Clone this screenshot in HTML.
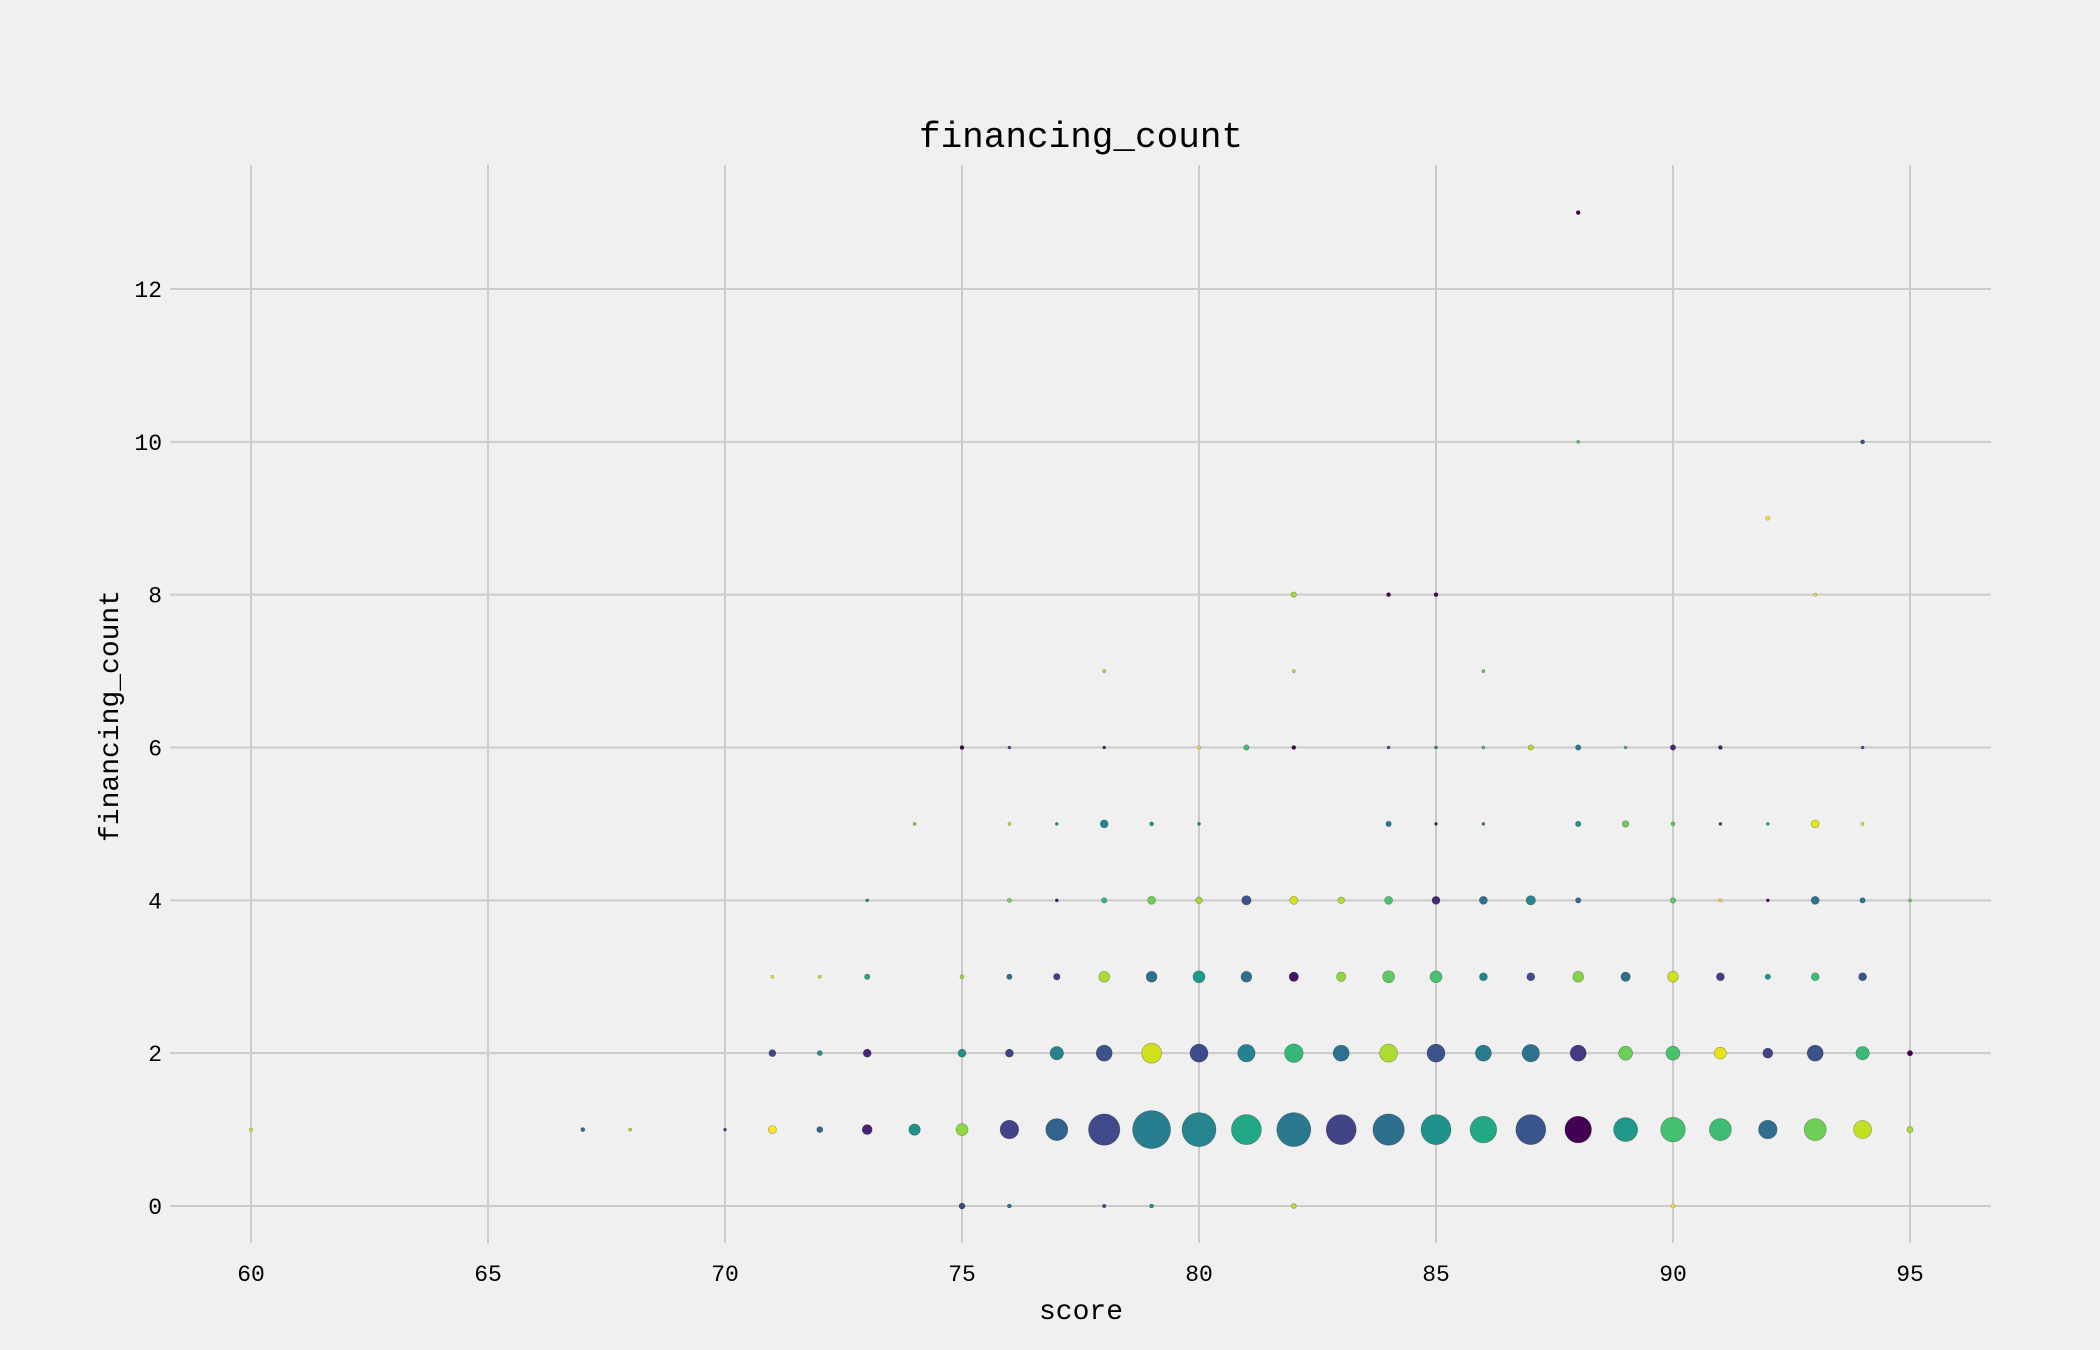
<!DOCTYPE html>
<html><head><meta charset="utf-8"><style>
html,body{margin:0;padding:0;background:#f0f0f0;}
svg{display:block;font-family:"Liberation Mono","IPAGothic",monospace;}
</style></head><body>
<svg id="chart" width="2100" height="1350" viewBox="0 0 2100 1350" xmlns="http://www.w3.org/2000/svg">
<rect x="0" y="0" width="2100" height="1350" fill="#f0f0f0"/>
<g id="grid"></g>
<g id="points"></g>
<g id="ticks"></g>
<text x="1081" y="147" text-anchor="middle" font-size="36" fill="#000">financing_count</text>
<text x="1081" y="1319" text-anchor="middle" font-size="28" fill="#000">score</text>
<text transform="translate(118,716) rotate(-90)" text-anchor="middle" font-size="28" fill="#000">financing_count</text>
</svg>
<script>
const xTicks=[60,65,70,75,80,85,90,95];
const yTicks=[0,2,4,6,8,10,12];
// rows of data: score, financing_count, marker radius, colour
const scores=[60,67,68,70,71,72,73,74,75,76,77,78,79,80,81,82,83,84,85,86,87,88,89,90,91,92,93,94,95,
71,72,73,75,76,77,78,79,80,81,82,83,84,85,86,87,88,89,90,91,92,93,94,95,
75,76,78,79,82,90,
71,72,73,75,76,77,78,79,80,81,82,83,84,85,86,87,88,89,90,91,92,93,94,
73,76,77,78,79,80,81,82,83,84,85,86,87,88,90,91,92,93,94,95,
74,76,77,78,79,80,84,85,86,88,89,90,91,92,93,94,
75,76,78,80,81,82,84,85,86,87,88,89,90,91,94,
78,82,86, 82,84,85,93, 92, 88,94, 88];
const counts=[1,1,1,1,1,1,1,1,1,1,1,1,1,1,1,1,1,1,1,1,1,1,1,1,1,1,1,1,1,
2,2,2,2,2,2,2,2,2,2,2,2,2,2,2,2,2,2,2,2,2,2,2,2,
0,0,0,0,0,0,
3,3,3,3,3,3,3,3,3,3,3,3,3,3,3,3,3,3,3,3,3,3,3,
4,4,4,4,4,4,4,4,4,4,4,4,4,4,4,4,4,4,4,4,
5,5,5,5,5,5,5,5,5,5,5,5,5,5,5,5,
6,6,6,6,6,6,6,6,6,6,6,6,6,6,6,
7,7,7, 8,8,8,8, 9, 10,10, 13];
const sizes=[1.5,2,1.5,1.5,4,3,5,5.7,6,9.3,11,15.7,19,17,15,17,15,15.7,15,13.3,15,13.3,12,12.3,11,9.3,11,9,3,
3.5,2.5,4,4,4,6.7,8,10,9,8.7,9.3,8,9,9,8,8.7,8,7,7,6,5,8,6.7,2.7,
3,2,1.8,2,2.5,2,
1.5,1.5,2.7,2,2.7,3.3,5.4,5.4,6,5.4,4.7,4.7,6,6,4,4,5.4,4.7,5.4,4,2.7,4,4,
1.5,2,1.5,2.7,4,3.3,4.7,4,3.3,4,4,4,4.7,2.7,2.7,1.5,1.5,4,2.7,1.5,
1.5,1.5,1.5,4,2,1.5,2.7,1.5,1.5,2.7,3.3,2,1.5,1.5,4,1.5,
2,1.5,1.5,1.5,2.7,2,1.5,1.5,1.5,2.7,2.7,1.5,2.7,2,1.5,
1.5,1.5,1.5, 2.7,2,2,1.5, 2, 1.5,2, 2];
const colors=["#e5e419","#31688e","#b5de2b","#3b528b","#fde725","#31688e","#482475","#21918c","#90d743","#414487","#33638d","#3e4a89","#287d8e","#25848e","#22a884","#2a788e","#414487","#2e6f8e","#20928c","#22a884","#39568c","#440154","#1f988b","#44bf70","#3fbc73","#2e6e8e","#6ece58","#c2df23","#a5db36",
"#414487","#21918c","#482475","#21918c","#414487","#26828e","#3b528b","#d0e11c","#3e4a89","#26828e","#35b779","#2c728e","#addc30","#3b528b","#287c8e","#2c728e","#443983","#6ccd5a","#4ac16d","#e5e419","#414487","#3b528b","#3aba76","#440154",
"#3e4a89","#287c8e","#3e4a89","#21918c","#b5de2b","#fde725",
"#fde725","#d8e219","#2a9d8a","#a0da39","#2e6e8e","#433e85","#addc30","#2d708e","#1f9a8a","#2c728e","#471365","#90d743","#5ec962","#4ac16d","#25858e","#3d4d8a","#86d549","#2c728e","#d0e11c","#433e85","#21918c","#3fbc73","#3b528b",
"#21918c","#73d056","#471365","#35b779","#6ece58","#a5db36","#3b528b","#d8e219","#b5de2b","#4ac16d","#482878","#2c728e","#23898e","#2e6e8e","#5ec962","#fde725","#440154","#2c728e","#287c8e","#6ece58",
"#7ad151","#d8e219","#21918c","#23898e","#1f988b","#26828e","#287c8e","#482475","#2a788e","#21918c","#6ccd5a","#5ec962","#482878","#20a386","#e5e419","#e5e419",
"#440154","#3b528b","#482475","#fde725","#44bf70","#440154","#3b528b","#21918c","#4ac16d","#b5de2b","#287c8e","#3fbc73","#482475","#482475","#3b528b",
"#b5de2b","#c2df23","#5ec962", "#9bd93c","#440154","#440154","#fde725", "#fde725", "#5ec962","#3b528b", "#440154"];
const X0=170,X1=1991,Y0=165,Y1=1243;
function xs(v){return 251+(v-60)*(1910-251)/35;}
function ys(v){return 1206-v*(1206-289)/12;}
const NS="http://www.w3.org/2000/svg";
const grid=document.getElementById('grid'),ticks=document.getElementById('ticks'),pts=document.getElementById('points');
xTicks.forEach(t=>{
 const l=document.createElementNS(NS,'line');
 l.setAttribute('x1',xs(t));l.setAttribute('x2',xs(t));l.setAttribute('y1',Y0);l.setAttribute('y2',Y1);
 l.setAttribute('stroke','#cbcbcb');l.setAttribute('stroke-width','2');
 
 
 grid.appendChild(l);
 const tx=document.createElementNS(NS,'text');
 tx.setAttribute('x',xs(t));tx.setAttribute('y',1281);tx.setAttribute('text-anchor','middle');tx.setAttribute('font-size','23');
 tx.textContent=t;
 
 
 ticks.appendChild(tx);
});
yTicks.forEach(t=>{
 const l=document.createElementNS(NS,'line');
 l.setAttribute('x1',X0);l.setAttribute('x2',X1);l.setAttribute('y1',ys(t));l.setAttribute('y2',ys(t));
 l.setAttribute('stroke','#cbcbcb');l.setAttribute('stroke-width','2');
 
 
 grid.appendChild(l);
 const tx=document.createElementNS(NS,'text');
 tx.setAttribute('x',162);tx.setAttribute('y',ys(t)+8);tx.setAttribute('text-anchor','end');tx.setAttribute('font-size','23');
 tx.textContent=t;
 
 
 ticks.appendChild(tx);
});
scores.forEach((s,i)=>{
 const c=document.createElementNS(NS,'circle');
 c.setAttribute('cx',xs(s));c.setAttribute('cy',ys(counts[i]));c.setAttribute('r',sizes[i]);
 c.setAttribute('fill',colors[i]);c.setAttribute('stroke','rgba(0,0,0,0.35)');c.setAttribute('stroke-width','0.6');
 
 
 pts.appendChild(c);
});
</script>
</body></html>
